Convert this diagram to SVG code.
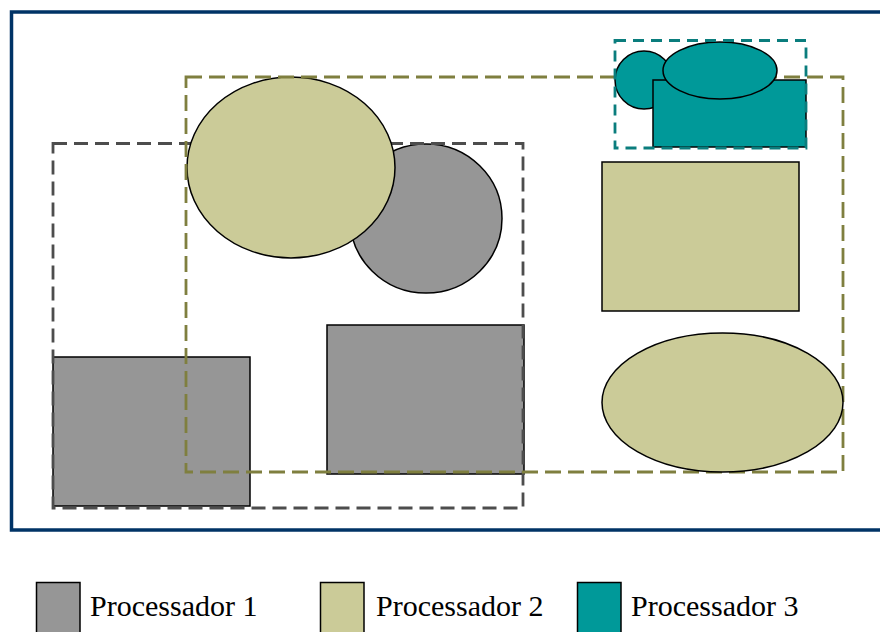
<svg xmlns="http://www.w3.org/2000/svg" width="880" height="632" viewBox="0 0 880 632">
<style>
.p1{fill:#969696;stroke:#000;stroke-width:1.5}
.p2{fill:#cbcb98;stroke:#000;stroke-width:1.5}
.p3{fill:#009999;stroke:#000;stroke-width:1.5}
.g1{fill:none;stroke:#4d4d4d;stroke-width:2.8;stroke-dasharray:14 7}
.g2{fill:none;stroke:#7f7f3f;stroke-width:2.8;stroke-dasharray:16 7}
.g3{fill:none;stroke:#0a7d7d;stroke-width:2.8;stroke-dasharray:11 7}
.lbl{font-family:"Liberation Serif","Times New Roman",serif;font-size:30px;fill:#000}
</style>
<rect id="frame" x="11.5" y="12" width="880" height="518" fill="#fff" stroke="#003366" stroke-width="3.5"/>
<g id="proc1">
<rect id="p1-rect-a" class="p1" x="53" y="357" width="197" height="149"/>
<rect id="p1-rect-b" class="p1" x="327" y="325" width="197" height="149"/>
<ellipse id="p1-circle" class="p1" cx="426" cy="218.5" rx="76" ry="74.5"/>
<rect id="p1-group" class="g1" x="53" y="143.5" width="470" height="364.5"/>
</g>
<g id="proc2">
<ellipse id="p2-ellipse-a" class="p2" cx="291" cy="167.5" rx="104" ry="90.5"/>
<rect id="p2-group" class="g2" x="186" y="77" width="657" height="395"/>
<rect id="p2-rect" class="p2" x="602" y="162" width="197" height="149"/>
<ellipse id="p2-ellipse-b" class="p2" cx="722.5" cy="402.5" rx="120.5" ry="69.5"/>
</g>
<g id="proc3">
<ellipse id="p3-circle" class="p3" cx="644" cy="80" rx="29" ry="29"/>
<rect id="p3-rect" class="p3" x="653" y="80" width="153" height="67"/>
<ellipse id="p3-ellipse" class="p3" cx="720" cy="70.5" rx="57" ry="28.5"/>
<rect id="p3-group" class="g3" x="615" y="40.5" width="191" height="107.5"/>
</g>
<g id="connectors"></g>
<g id="legend">
<g id="legend-1"><rect class="p1" x="36.5" y="582.5" width="43.5" height="60"/><text class="lbl" x="90" y="616">Processador 1</text></g>
<g id="legend-2"><rect class="p2" x="320.5" y="582.5" width="43.5" height="60"/><text class="lbl" x="376" y="616">Processador 2</text></g>
<g id="legend-3"><rect class="p3" x="577.5" y="582.5" width="43.5" height="60"/><text class="lbl" x="631" y="616">Processador 3</text></g>
</g>
</svg>
